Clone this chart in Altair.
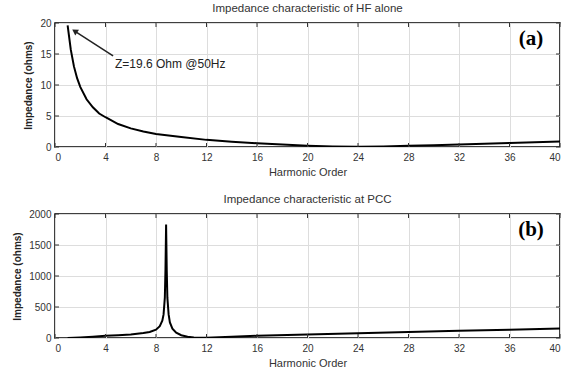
import altair as alt
import pandas as pd

# ---- data ----
hf_h = [1, 1.25, 1.5, 1.75, 2, 2.5, 3, 3.5, 4, 5, 6, 7, 8, 10, 12, 14, 16, 18, 20,
        22, 24, 26, 28, 30, 32, 34, 36, 38, 40]
hf_z = [19.6, 15.7, 13.0, 11.1, 9.7, 7.7, 6.4, 5.4, 4.8, 3.7, 3.0, 2.5, 2.1, 1.6,
        1.15, 0.85, 0.6, 0.4, 0.22, 0.1, 0.03, 0.1, 0.2, 0.3, 0.4, 0.52, 0.65, 0.78, 0.9]

pcc_h = [1, 2, 3, 4, 5, 6, 7, 7.5, 8, 8.3, 8.5, 8.6, 8.7, 8.75, 8.8, 8.85, 8.9, 9.0,
         9.1, 9.3, 9.6, 10, 10.5, 11, 11.5, 12, 13, 14, 16, 20, 24, 28, 32, 36, 40]
pcc_z = [2, 10, 22, 35, 45, 58, 80, 98, 135, 190, 280, 380, 650, 1100, 1830, 1100,
         650, 380, 250, 150, 85, 45, 20, 8, 3, 5, 14, 22, 35, 55, 75, 95, 115, 135, 155]

x_ticks = [0, 4, 8, 12, 16, 20, 24, 28, 32, 36, 40]
y_ticks_a = [0, 5, 10, 15, 20]
y_ticks_b = [0, 500, 1000, 1500, 2000]

title_a = "Impedance characteristic of HF alone"
title_b = "Impedance characteristic at PCC"
x_title = "Harmonic Order"
y_title = "Impedance (ohms)"
note_text = ["Z=19.6 Ohm @50Hz"]
note_x = [4.75]
note_y = [13.4]
arrow_tail = [(4.6, 14.7)]
arrow_tip = [(1.56, 18.7)]

W, H = 505, 124

def panel(h, z, yticks, ymax, tag, title, extra=None):
    df = pd.DataFrame({"h": h, "z": z})
    xs = alt.Scale(domain=[0, 40], nice=False)
    ys = alt.Scale(domain=[0, ymax], nice=False)
    xaxis = alt.Axis(values=x_ticks, title=x_title, grid=True, ticks=False, domain=False,
                     format="d", labelOverlap=False,
                     labelPadding=5, titlePadding=4, labelFontSize=10, titleFontSize=11,
                     labelColor="#333", titleColor="#333", titleFontWeight="normal",
                     gridColor="#dddddd", labelFont="Liberation Sans", titleFont="Liberation Sans")
    yaxis = alt.Axis(values=yticks, title=y_title, grid=True, ticks=False, domain=False,
                     format="d", labelOverlap=False,
                     labelPadding=4, titlePadding=6, labelFontSize=10, titleFontSize=10,
                     labelColor="#333", titleColor="#222", titleFontWeight="bold",
                     gridColor="#dddddd", labelFont="Liberation Sans", titleFont="Liberation Sans")
    X = lambda f: alt.X(f, scale=xs, axis=xaxis, title=x_title)
    Y = lambda f: alt.Y(f, scale=ys, axis=yaxis, title=y_title)
    line = alt.Chart(df).mark_line(color="black", strokeWidth=2, clip=True).encode(
        x=X("h:Q"), y=Y("z:Q"))
    xt = pd.DataFrame({"t": x_ticks})
    yt = pd.DataFrame({"t": yticks})
    tk_top = alt.Chart(xt).mark_rule(color="#333").encode(
        x=X("t:Q"), y=alt.value(0), y2=alt.value(4))
    tk_bot = alt.Chart(xt).mark_rule(color="#333").encode(
        x=X("t:Q"), y=alt.value(H), y2=alt.value(H - 4))
    tk_left = alt.Chart(yt).mark_rule(color="#333").encode(
        y=Y("t:Q"), x=alt.value(0), x2=alt.value(4))
    tk_right = alt.Chart(yt).mark_rule(color="#333").encode(
        y=Y("t:Q"), x=alt.value(W - 4), x2=alt.value(W))
    lab = alt.Chart(pd.DataFrame({"s": [tag]})).mark_text(
        font="Liberation Serif", fontWeight="bold", fontSize=21, color="black",
        align="center", baseline="middle").encode(
        text="s:N", x=alt.value(W - 29), y=alt.value(16))
    layers = [line, tk_top, tk_bot, tk_left, tk_right, lab]
    if extra:
        layers += extra(X, Y)
    return alt.layer(*layers).properties(
        width=W, height=H,
        title=alt.TitleParams(title, fontSize=11.5, fontWeight="normal", color="#333",
                              font="Liberation Sans", offset=4, anchor="middle"))

def annot(X, Y):
    adf = pd.DataFrame({"x": [arrow_tail[0][0]], "y": [arrow_tail[0][1]],
                        "x2": [arrow_tip[0][0]], "y2": [arrow_tip[0][1]]})
    rule = alt.Chart(adf).mark_rule(color="#222", strokeWidth=1.5).encode(
        x=X("x:Q"), y=Y("y:Q"), x2="x2:Q", y2="y2:Q")
    head = alt.Chart(adf).mark_point(shape="triangle-up", filled=True, color="#222",
                                      size=45, angle=303, opacity=1).encode(
        x=X("x2:Q"), y=Y("y2:Q"))
    tdf = pd.DataFrame({"x": note_x, "y": note_y, "s": note_text})
    txt = alt.Chart(tdf).mark_text(align="left", baseline="middle", fontSize=12,
                                    font="Liberation Sans", color="#222").encode(
        x=X("x:Q"), y=Y("y:Q"), text="s:N")
    return [rule, head, txt]

top = panel(hf_h, hf_z, y_ticks_a, 20, "(a)", title_a, annot)
bot = panel(pcc_h, pcc_z, y_ticks_b, 2000, "(b)", title_b)

chart = alt.vconcat(top, bot, spacing=14).properties(
    padding={"left": 12, "top": 1, "right": 5, "bottom": 2},
    background="white",
).configure_view(stroke="black", strokeWidth=1.5)

chart.save("out.html", embed_options={"renderer": "svg", "actions": False})
